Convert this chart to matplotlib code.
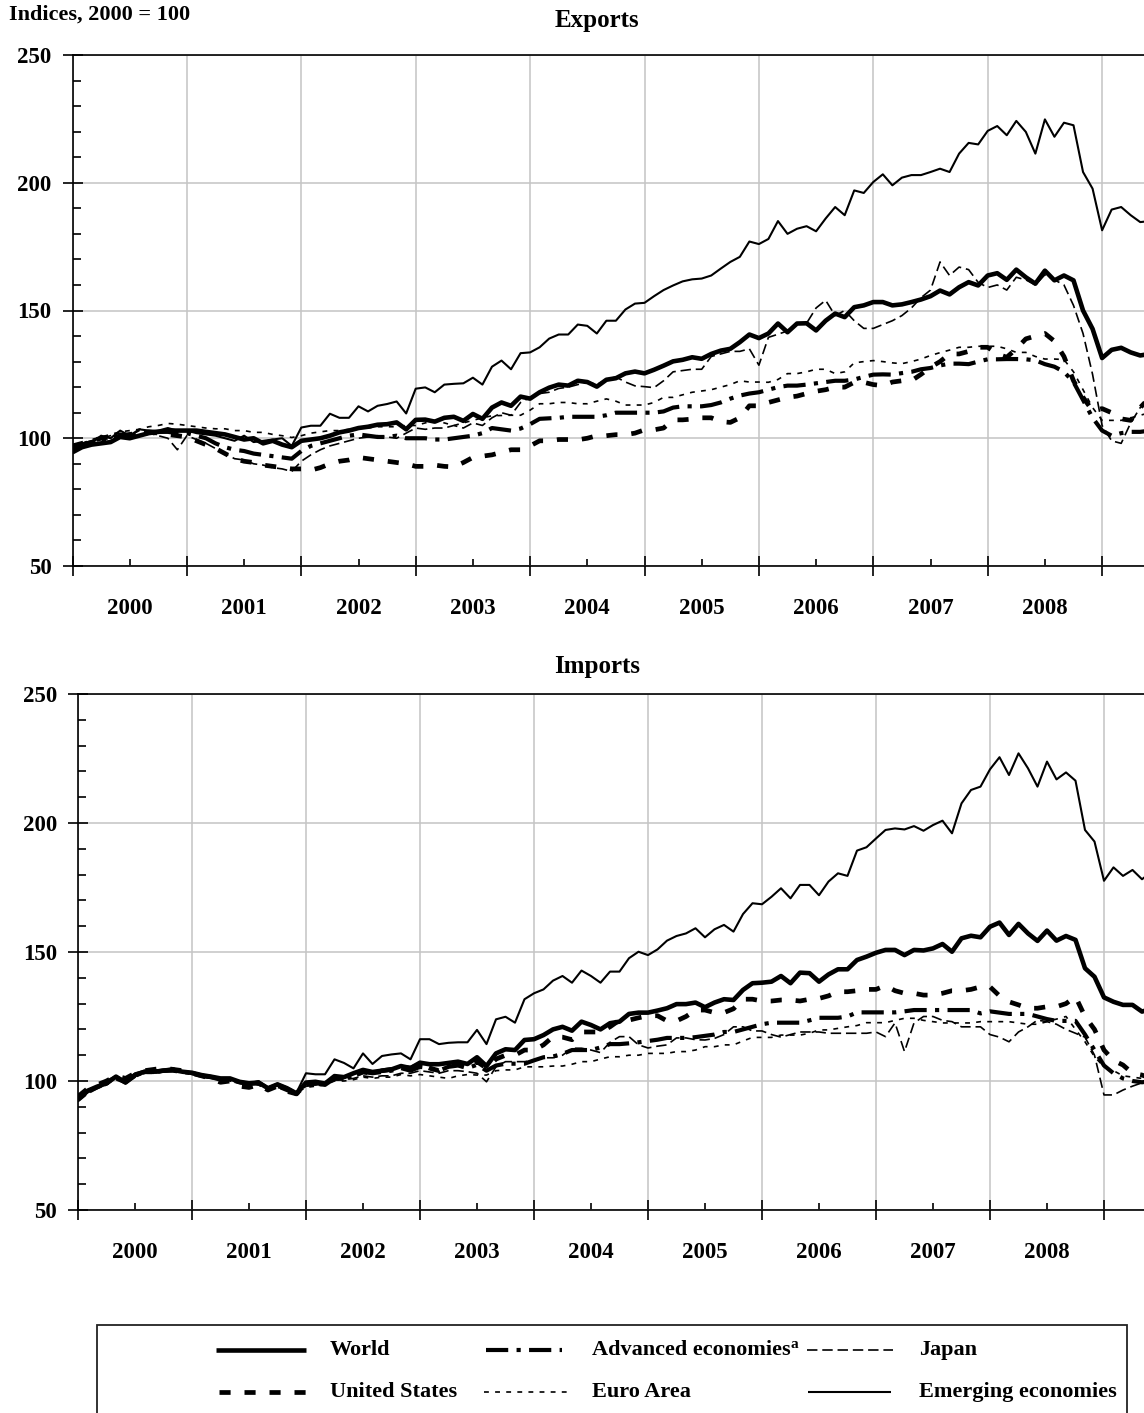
import matplotlib
matplotlib.use("Agg")
import numpy as np
import matplotlib.pyplot as plt
from matplotlib.lines import Line2D
from matplotlib.patches import Rectangle

plt.rcParams['font.family'] = ['Liberation Serif', 'DejaVu Serif']
plt.rcParams['font.weight'] = 'bold'
plt.rcParams['lines.scale_dashes'] = False

# monthly indices, Jan 2000 onwards (2000 = 100)
year_labels = ['2000', '2001', '2002', '2003', '2004', '2005', '2006', '2007', '2008']
series_names = ['World', 'Advanced economies', 'Japan', 'United States', 'Euro Area', 'Emerging economies']

ex_world = [
    94.5, 96.5, 97.5, 98, 98.5, 100.5, 100, 101, 102, 102.5, 103, 103,
    103, 103, 102.5, 102, 101.5, 100.5, 99.5, 100, 98, 99, 97.5, 96.5,
    99, 99.5, 100, 101, 102.3, 103, 104, 104.5, 105.3, 105.5, 106.2, 103.5,
    107.2, 107.3, 106.5, 108, 108.4, 106.8, 109.5, 107.6, 112, 114, 112.7, 116.3,
    115.5, 118, 119.8, 121, 120.6, 122.5, 122, 120.2, 122.9, 123.5, 125.4, 126.1,
    125.4, 126.8, 128.4, 130.1, 130.7, 131.7, 131.1, 133, 134.3, 135, 137.6, 140.6,
    139.2, 141, 144.9, 141.5, 144.9, 145, 142.2, 146, 148.8, 147.4, 151.3, 152,
    153.3, 153.3, 152, 152.4, 153.3, 154.3, 155.6, 157.8, 156.3, 159.1, 161.1, 159.8,
    163.7, 164.6, 162, 166, 163, 160.5, 165.6, 161.8, 163.7, 161.8, 150, 142.8,
    131.4, 134.6, 135.4, 133.6, 132.4, 133,
]
ex_adv = [
    96, 97.5, 98.5, 99.5, 100, 101, 101, 102, 102, 102.5, 102.5, 102,
    102, 101, 100, 98, 96.5, 95.5, 95, 94, 93.5, 93, 92.5, 92,
    95, 97, 98, 99, 100, 101, 101.5, 101, 100.5, 100.5, 101, 100,
    100, 100, 99.5, 99.5, 100, 100.5, 101, 102, 104, 103.5, 103, 103.8,
    105.5, 107.6, 107.8, 108, 108.4, 108.4, 108.4, 108.4, 109, 110, 110, 110,
    110, 110, 110.5, 112, 112.5, 112.5, 112.5, 113, 114, 115.5, 116.7, 117.5,
    118, 119, 120, 120.6, 120.6, 121, 121.5, 122, 122.5, 122.5, 123, 124,
    124.9, 125, 124.9, 125.5, 126, 127, 127.5, 128.5, 129.2, 129.2, 129, 130,
    130.9, 130.9, 131, 131, 130.9, 130.5, 129, 128, 126, 122, 115, 108,
    103, 101, 102, 102.5, 102.5, 103,
]
ex_japan = [
    96, 98, 99, 100, 101, 102, 101, 103, 102, 101, 100, 95.5,
    101, 99.5, 98, 96, 94, 92, 91.5, 90, 89.5, 88.5, 88, 87,
    91, 93.5, 95.5, 97, 98, 99, 100, 100.5, 101, 100.5, 100, 102,
    104, 103.5, 104, 104, 105, 104, 106, 105, 108, 110, 109, 114,
    116, 117.5, 118, 119.5, 120, 121, 122, 121, 123, 124, 122, 120.5,
    120.2, 119.8, 122.5, 126, 126.5, 127, 127, 132, 133, 134, 134, 135,
    128.6, 139.5, 140.7, 142, 145, 145, 151, 154, 148, 150, 146, 143,
    143, 144.5, 146, 148, 151, 155, 158, 169, 163.7, 167, 166, 161,
    159, 160, 158, 163, 162, 160, 164, 162, 160, 152, 141, 125,
    105, 99, 98, 106, 112, 115,
]
ex_us = [
    97, 98, 99, 100, 100.5, 101, 101.5, 102, 102.5, 102, 101.5, 101,
    100.5, 99, 97.5, 96, 94, 92, 91, 90.5, 89.5, 89, 88.5, 88,
    88, 87.5, 88.5, 90, 91, 91.5, 92.5, 92, 91.5, 91, 90.5, 90,
    89, 89, 89.5, 89, 88.8, 90.5, 92.5, 93, 93.5, 94.5, 95.5, 95.5,
    97, 99, 99, 99.5, 99.5, 99.4, 100, 101, 101, 101.4, 101.4, 102,
    103.3, 103.3, 104, 107.2, 107.2, 107.5, 108, 108, 106.5, 106.2, 108, 112.7,
    112.7, 114, 115, 116, 116.5, 117.5, 118.4, 119, 120, 120, 121.9, 121.9,
    121, 120.6, 122, 122.5, 122.5, 125, 127.8, 130, 133, 133, 134, 135.6,
    135.6, 133, 131.7, 135, 138.9, 140, 141, 138, 132, 122.5, 116, 110.8,
    111.6, 110, 107.6, 107, 112, 116,
]
ex_euro = [
    96, 98, 99.5, 100.5, 101.5, 102.5, 103, 103.5, 104.5, 105, 105.8, 105.5,
    105, 104.5, 104, 103.7, 103.7, 103, 103, 102.3, 102.3, 101.5, 101, 100.3,
    101, 102, 102.5, 103, 103, 103.5, 104, 104, 104.5, 104.5, 104.5, 105,
    105, 106, 107, 106, 105, 106, 107, 108, 108.8, 108.9, 109, 109,
    111, 113.5, 113.5, 114, 114, 113.5, 113.5, 114.5, 115.4, 114.5, 113, 113,
    113, 114, 116, 116, 117, 118, 118.5, 119, 120, 121, 122.5, 122,
    122, 121.9, 123, 125.3, 125.3, 126, 127, 127, 125.3, 126, 129.5, 130,
    130.4, 130, 129.5, 129.2, 130, 131, 132.4, 133.5, 134.5, 135.6, 135.6, 136,
    136, 136, 135, 133.6, 133.6, 132, 131, 131, 130.8, 126, 119, 112,
    107, 107, 107, 108, 109, 110,
]
ex_emerg = [
    95, 97, 98, 101, 100, 103, 101, 103.5, 103, 103, 104, 103,
    103, 102, 101.5, 101, 100, 99, 101, 98.5, 99, 99.5, 100, 97,
    104.2, 104.9, 104.9, 109.6, 108, 108, 112.5, 110.5, 112.7, 113.4, 114.4, 109.7,
    119.4, 119.9, 118, 121, 121.3, 121.5, 123.7, 121, 128, 130.4, 127, 133.3,
    133.6, 135.6, 139, 140.6, 140.6, 144.5, 144, 141, 146, 146, 150.4, 152.7,
    153, 155.6, 158, 159.8, 161.4, 162.2, 162.5, 163.7, 166.4, 169, 171, 177,
    176, 178, 185, 180, 182, 183, 181, 186, 190.5, 187.3, 197, 196,
    200.3, 203.3, 199, 202, 203, 203, 204.2, 205.5, 204.2, 211.4, 215.6, 215,
    220.3, 222.2, 218.6, 224.2, 219.9, 211.4, 224.8, 218, 223.5, 222.5, 204.2, 197.7,
    181.4, 189.5, 190.5, 187.3, 184.6, 185,
]

im_world = [
    92.9, 96.2, 97.8, 99.1, 101.7, 99.4, 102.3, 103.6, 103.6, 104, 104.3, 103.6,
    103.2, 102.3, 101.7, 101, 101, 99.7, 99.1, 99.4, 97.2, 98.7, 97.2, 95.2,
    99.4, 99.7, 99, 101.9, 101.5, 103, 104.3, 103.5, 104, 104.5, 105.8, 105,
    107.1, 106.5, 106.5, 107, 107.5, 106.6, 109.2, 105.8, 110.7, 112.3, 112, 115.9,
    116.2, 117.8, 120, 121, 119.5, 123, 121.7, 120, 122.4, 123, 126, 126.5,
    126.5, 127.3, 128.2, 129.8, 129.8, 130.4, 128.6, 130.4, 131.7, 131.4, 135.3, 137.9,
    138.1, 138.5, 140.7, 137.9, 142, 141.8, 138.5, 141.3, 143.3, 143.3, 146.9, 148.2,
    149.7, 150.8, 150.8, 148.8, 150.8, 150.6, 151.4, 153.1, 150.1, 155.3, 156.3, 155.7,
    159.8, 161.4, 156.6, 160.9, 157.2, 154.3, 158.3, 154.4, 156.2, 154.7, 143.7, 140.4,
    132.4, 130.7, 129.5, 129.5, 126.9, 128,
]
im_adv = [
    93, 96, 97.5, 99, 101, 99.5, 102, 103.5, 103.5, 104, 104, 103.5,
    103, 102, 101.5, 100.5, 100.5, 99.5, 99, 99, 97, 98, 96.5, 95,
    98.5, 99, 98.5, 101, 101, 102, 103.5, 103, 103.5, 104, 105, 104,
    105.5, 105, 104, 105.5, 106, 105, 106.3, 104, 106, 106.7, 106.7, 106.7,
    108, 109.2, 109.5, 110.5, 112, 112, 112, 113, 114.3, 114.3, 114.6, 115,
    115.5, 116, 116.7, 116.7, 116.7, 117, 117.5, 118, 119, 119, 120, 121,
    122, 122.6, 122.6, 122.6, 122.6, 123.5, 124.5, 124.5, 124.5, 125, 126.6, 126.6,
    126.6, 126.6, 126.6, 127, 127.5, 127.5, 127.5, 127.5, 127.5, 127.5, 127.5, 126.2,
    127, 126.5, 126, 126, 126, 125, 124, 123.3, 123.3, 123.3, 118, 112,
    106, 103, 101, 100, 99.5, 100,
]
im_japan = [
    92, 95, 97, 99, 101, 99, 102, 103, 103, 103.5, 104, 103.5,
    102.5, 101.5, 101, 100.5, 100.5, 99, 98.5, 99, 97, 98, 96.5, 95,
    98, 98.5, 99, 100.5, 100.5, 101, 102, 101.5, 102, 102, 103, 103,
    104, 103.5, 103, 104, 104, 103.6, 103, 99.7, 105.5, 107.5, 107.5, 107.5,
    108, 109, 109, 110, 112.7, 112.7, 112, 111, 115, 117.2, 117.2, 114,
    112.8, 113.5, 114, 116.7, 116.7, 116, 115.9, 116.5, 118, 121, 121, 119.4,
    119.4, 118, 117, 118, 119, 119, 119, 118.5, 118.5, 118.5, 118.5, 118.5,
    119, 117.2, 122.5, 111.4, 122.5, 125, 125, 123.5, 123, 121, 121, 121,
    118, 117, 115.2, 119, 121, 123.6, 123, 122, 120, 118.5, 117, 110,
    94.6, 94.6, 96.5, 98, 99.3, 100,
]
im_us = [
    94, 97, 98.5, 100, 102, 101, 103, 104, 104.5, 105, 104.5, 104,
    103, 102, 101, 99.5, 100, 98, 97.5, 98.5, 96.5, 98, 96, 95,
    99, 99, 99.5, 101, 101, 102, 103.5, 103, 104, 104.5, 105.5, 105,
    106.5, 105, 104, 106, 106.5, 105, 107.5, 105, 108.5, 110, 110, 112,
    112, 114, 117.2, 117, 116, 119, 119, 119, 121, 123.6, 123.6, 124.5,
    125.3, 125.3, 123.3, 123.3, 125, 127.5, 127.5, 126.5, 126.5, 128, 131.7, 131.7,
    131, 131, 131.4, 131.4, 131, 131.7, 132, 133, 134.6, 134.6, 135, 135.5,
    135.5, 137, 135, 134, 134, 133.3, 133.3, 134, 135, 135, 135.5, 136.5,
    136.5, 133, 130.7, 129.5, 128.2, 128.2, 128.8, 128.8, 130, 132.7, 125, 120,
    112, 108, 106.2, 103, 102.3, 101,
]
im_euro = [
    93, 96, 97, 98.5, 101, 99.5, 101.5, 103, 103, 103.5, 104, 103.5,
    103, 102, 101.5, 100.5, 100, 99, 98.5, 98.5, 97, 97.5, 96.5, 95.5,
    97.5, 98, 98.5, 100, 100, 100.5, 101.5, 101, 101.5, 101.5, 102.5, 102,
    102.5, 102, 101.5, 101, 102, 102.5, 102.3, 102.3, 104, 104.3, 104.3, 105.5,
    105.5, 105.5, 105.8, 105.8, 106.5, 107.5, 107.5, 108.5, 109.4, 109.4, 110, 110,
    110.7, 110.7, 110.7, 111.4, 111.4, 112, 113.3, 113.3, 114, 114, 115.5, 116.9,
    116.9, 116.9, 117.8, 117.8, 117.8, 118.5, 119.8, 119.8, 120.4, 121, 121.5, 122.6,
    122.6, 122.6, 123.5, 124.3, 124.3, 123.5, 123, 122.5, 122.5, 122.5, 122.5, 123,
    123, 123, 123, 122.5, 122, 122, 123, 124, 125, 120, 115.2, 109.4,
    105.5, 104, 102, 101.5, 101, 100.5,
]
im_emerg = [
    93.5, 96.5, 97.5, 100, 102, 100, 103, 104, 104, 104.5, 105, 103.5,
    103.5, 102.5, 102, 101, 101, 100, 99, 100, 97.5, 99, 97.5, 95.5,
    103, 102.6, 102.6, 108.4, 107, 104.9, 110.7, 106.6, 109.7, 110.3, 110.7, 108.4,
    116.2, 116.2, 114.3, 114.8, 115, 115, 119.8, 114.3, 123.9, 124.9, 122.6, 131.7,
    134, 135.5, 138.9, 140.7, 138.1, 142.8, 140.7, 138.1, 142.4, 142.4, 147.6, 150.1,
    148.8, 151, 154.4, 156.2, 157.2, 159.2, 155.7, 158.8, 160.5, 157.9, 164.7, 168.9,
    168.5, 171.4, 174.7, 170.8, 176, 176, 172, 177.3, 180.5, 179.5, 189.3, 190.6,
    194, 197.3, 197.9, 197.5, 198.8, 197, 199.2, 200.9, 196, 207.6, 212.8, 214.1,
    220.8, 225.5, 218.6, 227, 221.2, 214.1, 223.8, 216.9, 219.6, 216.4, 197.3, 192.8,
    177.6, 182.8, 179.5, 181.8, 178.2, 181,
]

exports = [ex_world, ex_adv, ex_japan, ex_us, ex_euro, ex_emerg]
imports = [im_world, im_adv, im_japan, im_us, im_euro, im_emerg]

styles = [
    dict(lw=3.3, ls='-'),                 # World
    dict(lw=3.0, dashes=(16, 6, 3, 6)),   # Advanced economies
    dict(lw=1.2, dashes=(7.5, 3.5)),      # Japan
    dict(lw=3.4, dashes=(8, 10)),         # United States
    dict(lw=1.2, dashes=(3.5, 4.5)),      # Euro Area
    dict(lw=1.5, ls='-'),                 # Emerging economies
]

W, H = 1144, 1413
fig = plt.figure(figsize=(W / 100, H / 100), dpi=100)


def px_rect(left, top, right, bottom):
    return [left / W, 1 - bottom / H, (right - left) / W, (bottom - top) / H]


def draw_panel(ax, data, title_y, title):
    months = 2000 + np.arange(len(data[0])) / 12
    for vals, st in zip(data, styles):
        ax.plot(months, vals, color='black', solid_capstyle='butt',
                dash_capstyle='butt', solid_joinstyle='round', **st)
    ax.set_xlim(2000, 2010)
    ax.set_ylim(50, 250)
    ax.set_yticks([50, 100, 150, 200, 250])
    ax.set_yticks(np.arange(50, 251, 10), minor=True)
    ax.set_xticks(np.arange(2000, 2011))
    ax.set_xticklabels([])
    mids = np.arange(2000, 2010) + 0.5
    ax.set_xticks(mids, labels=year_labels + [''], minor=True)
    ax.grid(True, which='major', color='#c4c4c4', lw=1.1)
    ax.set_axisbelow(True)
    ax.tick_params(axis='y', which='major', direction='inout', length=14, width=1.2,
                   pad=8, labelsize=16.5)
    ax.tick_params(axis='y', which='minor', direction='in', length=6, width=1.2)
    ax.tick_params(axis='x', which='major', direction='inout', length=14, width=1.2)
    ax.tick_params(axis='x', which='minor', direction='in', length=5, width=1.2,
                   pad=23, labelsize=16.5)
    for lab in ax.get_xticklabels(minor=True) + ax.get_yticklabels():
        lab.set_fontweight('bold')
    for sp in ax.spines.values():
        sp.set_linewidth(1.2)
    fig.text(597 / W, 1 - title_y / H, title, ha='center', va='center',
             fontsize=18, fontweight='bold')


ax1 = fig.add_axes(px_rect(72.5, 55, 72.5 + 1144, 566))
draw_panel(ax1, exports, 20, 'Exports')
ax2 = fig.add_axes(px_rect(78, 694, 78 + 1140, 1210))
draw_panel(ax2, imports, 667, 'Imports')

fig.text(9 / W, 1 - 15 / H, 'Indices, 2000 = 100', ha='left', va='center',
         fontsize=16, fontweight='bold')

# legend box below the panels
fig.add_artist(Rectangle((97 / W, -0.02), (1127 - 97) / W, 0.02 + 1 - 1325 / H,
                         transform=fig.transFigure, fill=False, lw=1.3,
                         edgecolor='#222222'))

legend_slots = [
    (216, 306, 330, 1350),
    (486, 562, 592, 1350),
    (807, 893, 919, 1350),
    (219, 306, 330, 1392),
    (484, 570, 592, 1392),
    (808, 891, 919, 1392),
]
labels_drawn = []
for name, st, (x0, x1, tx, y) in zip(series_names, styles, legend_slots):
    fig.add_artist(Line2D([x0 / W, x1 / W], [1 - y / H, 1 - y / H],
                          transform=fig.transFigure, color='black',
                          solid_capstyle='butt', dash_capstyle='butt', **st))
    t = fig.text(tx / W, 1 - y / H, name, ha='left', va='center',
                 fontsize=16, fontweight='bold')
    labels_drawn.append(t)

fig.canvas.draw()
bb = labels_drawn[1].get_window_extent()
fig.text(bb.x1 / W, (bb.y1 - 4) / H, 'a', ha='left', va='center',
         fontsize=11, fontweight='bold')

fig.savefig('out.png', dpi=100)
